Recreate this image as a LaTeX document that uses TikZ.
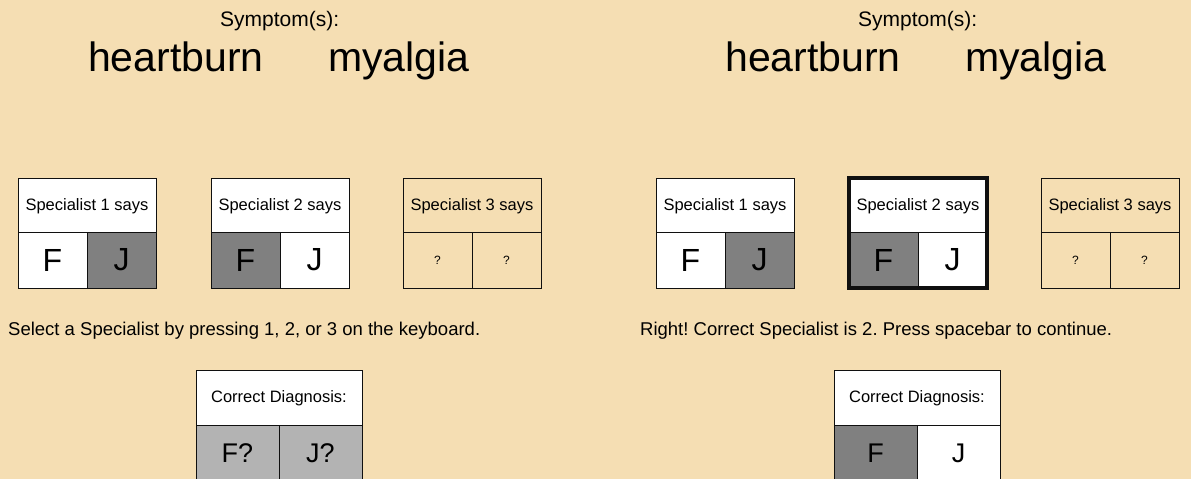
\documentclass[tikz,border=0pt]{standalone}
\usepackage{fontspec}
\setmainfont{Liberation Sans}
\usetikzlibrary{positioning,fit}
\definecolor{Wheat}{HTML}{F5DEB3}
\definecolor{Dark}{HTML}{808080}
\definecolor{Light}{HTML}{B3B3B3}
\definecolor{Ink}{HTML}{101010}
\tikzset{
  box/.style={rectangle,draw=Ink,line width=1pt,inner sep=0pt,outer sep=0pt,anchor=north west},
  head/.style={box,fill=white,minimum width=138pt,minimum height=54pt,text height=12pt,text depth=2pt,font=\fontsize{16.5}{18}\selectfont},
  headq/.style={head,fill=Wheat},
  cell/.style={box,fill=white,minimum width=69pt,minimum height=56pt,font=\fontsize{32}{36}\selectfont},
  celldark/.style={cell,fill=Dark},
  cellq/.style={cell,fill=Wheat,font=\fontsize{12}{14}\selectfont},
  diaghead/.style={head,minimum width=166pt,minimum height=55pt},
  diagcell/.style={cell,minimum width=83pt,font=\fontsize{27}{30}\selectfont},
  diagq/.style={diagcell,fill=Light},
  diagdark/.style={diagcell,fill=Dark},
  symlabel/.style={anchor=base west,inner sep=0pt,font=\fontsize{21}{24}\selectfont},
  bigword/.style={anchor=base west,inner sep=0pt,font=\fontsize{41}{48}\selectfont},
  msg/.style={anchor=base west,inner sep=0pt,font=\fontsize{18.5}{22}\selectfont},
  chosen/.style={draw=Ink,line width=4pt,inner sep=0pt}
}
\frenchspacing
\begin{document}
\begin{tikzpicture}[x=1pt,y=-1pt]
  \fill[Wheat] (0,0) rectangle (1191,479);
  \useasboundingbox (0,0) rectangle (1191,479);

  % left screen: choosing
  \node[symlabel] (lsym) at (220,27) {Symptom(s):};
  \node[bigword] (lw1) at (88,71) {heartburn};
  \node[bigword] (lw2) at (328,71) {myalgia};

  \node[head] (l1h) at (18,178) {Specialist 1 says};
  \node[cell] (l1f) at (l1h.south west) {F};
  \node[celldark] (l1j) at (l1f.north east) {J};

  \node[head] (l2h) at (211,178) {Specialist 2 says};
  \node[celldark] (l2f) at (l2h.south west) {F};
  \node[cell] (l2j) at (l2f.north east) {J};

  \node[headq] (l3h) at (403,178) {Specialist 3 says};
  \node[cellq] (l3f) at (l3h.south west) {?};
  \node[cellq] (l3j) at (l3f.north east) {?};

  \node[msg] (lmsg) at (8,335) {Select a Specialist by pressing 1, 2, or 3 on the keyboard.};

  \node[diaghead] (ldh) at (196,370) {Correct Diagnosis:};
  \node[diagq] (ldf) at (ldh.south west) {F?};
  \node[diagq] (ldj) at (ldf.north east) {J?};

  % right screen: feedback
  \node[symlabel] (rsym) at (858,27) {Symptom(s):};
  \node[bigword] (rw1) at (725,71) {heartburn};
  \node[bigword] (rw2) at (965,71) {myalgia};

  \node[head] (r1h) at (656,178) {Specialist 1 says};
  \node[cell] (r1f) at (r1h.south west) {F};
  \node[celldark] (r1j) at (r1f.north east) {J};

  \node[head] (r2h) at (849,178) {Specialist 2 says};
  \node[celldark] (r2f) at (r2h.south west) {F};
  \node[cell] (r2j) at (r2f.north east) {J};
  \node[chosen,fit=(r2h)(r2f)(r2j)] (r2box) {};

  \node[headq] (r3h) at (1041,178) {Specialist 3 says};
  \node[cellq] (r3f) at (r3h.south west) {?};
  \node[cellq] (r3j) at (r3f.north east) {?};

  \node[msg] (rmsg) at (640,335) {Right! Correct Specialist is 2. Press spacebar to continue.};

  \node[diaghead] (rdh) at (834,370) {Correct Diagnosis:};
  \node[diagdark] (rdf) at (rdh.south west) {F};
  \node[diagcell] (rdj) at (rdf.north east) {J};
\end{tikzpicture}
\end{document}
